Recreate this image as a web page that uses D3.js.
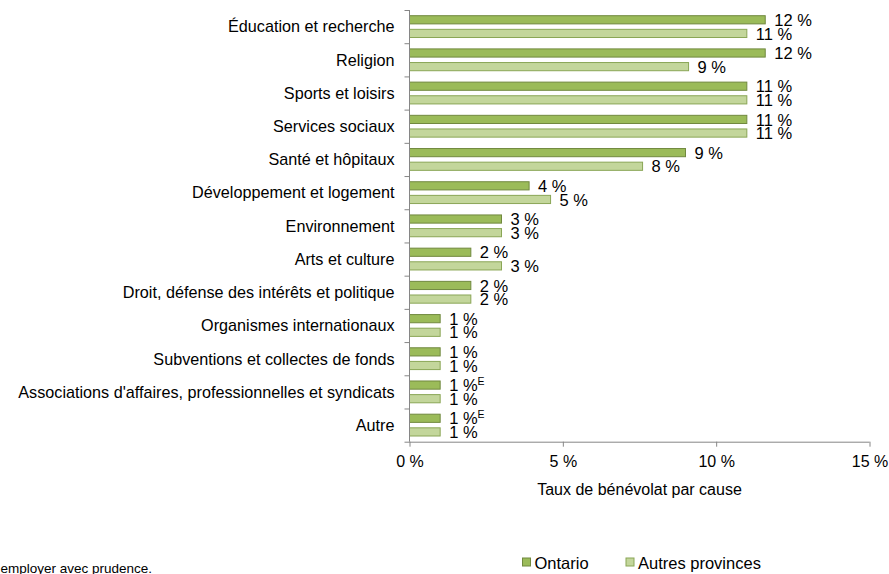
<!DOCTYPE html>
<html lang="fr">
<head>
<meta charset="utf-8">
<script src="https://cdn.jsdelivr.net/npm/d3@7"></script>
<style>
  html, body { margin: 0; padding: 0; background: #fff; }
  svg { display: block; font-family: "Liberation Sans", Arial, sans-serif; }
</style>
</head>
<body>
<svg id="chart" width="889" height="574"></svg>
<script>
// Causes, top to bottom
const categories = [
  "Éducation et recherche",
  "Religion",
  "Sports et loisirs",
  "Services sociaux",
  "Santé et hôpitaux",
  "Développement et logement",
  "Environnement",
  "Arts et culture",
  "Droit, défense des intérêts et politique",
  "Organismes internationaux",
  "Subventions et collectes de fonds",
  "Associations d'affaires, professionnelles et syndicats",
  "Autre"
];
const seriesNames = ["Ontario", "Autres provinces"];
// Volunteer rate by cause (%)
const ontario = [11.6, 11.6, 11.0, 11.0, 9.0, 3.9, 3.0, 2.0, 2.0, 1.0, 1.0, 1.0, 1.0];
const autres  = [11.0, 9.1, 11.0, 11.0, 7.6, 4.6, 3.0, 3.0, 2.0, 1.0, 1.0, 1.0, 1.0];
// Estimates flagged "E" (use with caution)
const ontarioFlag = ["", "", "", "", "", "", "", "", "", "", "", "E", "E"];
const autresFlag  = ["", "", "", "", "", "", "", "", "", "", "", "", ""];
const xTicks = [0, 5, 10, 15];
const axisTitle = "Taux de bénévolat par cause";
const footnote = "E à employer avec prudence.";

const fills = { "Ontario": "#9BBB59", "Autres provinces": "#C3D69B" };
const strokes = { "Ontario": "#71893F", "Autres provinces": "#8AA656" };
const axisColor = "#868686";

const svg = d3.select("#chart");
const x0 = 409.5, x1 = 869.5, yTop = 10, yBottom = 441.7;

const x = d3.scaleLinear().domain([0, 15]).range([x0, x1]);
const y = d3.scaleBand().domain(categories).range([yTop, yBottom]);
const ySub = d3.scaleBand().domain(seriesNames)
  .range([5.7, y.bandwidth() - 5.7]).paddingInner(0.4);

const rows = categories.map((c, i) => ({
  cat: c,
  bars: [
    { s: "Ontario", v: ontario[i], flag: ontarioFlag[i] },
    { s: "Autres provinces", v: autres[i], flag: autresFlag[i] }
  ]
}));

const fmt = v => d3.format(".0f")(v) + "\u00a0%";

// Bars
const g = svg.append("g");
const row = g.selectAll("g.row").data(rows).join("g")
  .attr("class", "row")
  .attr("transform", d => `translate(0,${y(d.cat)})`);

row.selectAll("rect").data(d => d.bars).join("rect")
  .attr("x", x(0))
  .attr("y", d => ySub(d.s))
  .attr("width", d => x(d.v) - x(0))
  .attr("height", ySub.bandwidth())
  .attr("fill", d => fills[d.s])
  .attr("stroke", d => strokes[d.s])
  .attr("stroke-width", 1);

// Value labels
const lab = row.selectAll("text.val").data(d => d.bars).join("text")
  .attr("class", "val")
  .attr("x", d => x(d.v) + 9)
  .attr("y", d => ySub(d.s) + ySub.bandwidth() / 2)
  .attr("dy", "0.37em")
  .attr("font-size", 16.5)
  .attr("fill", "#000");
lab.append("tspan").text(d => fmt(d.v));
lab.append("tspan")
  .attr("font-size", 10.5)
  .attr("dy", "-0.6em")
  .text(d => d.flag);

// Left axis: ticks at band boundaries
const yAxis = svg.append("g");
yAxis.append("line")
  .attr("x1", x0).attr("x2", x0).attr("y1", yTop).attr("y2", yBottom)
  .attr("stroke", axisColor);
yAxis.selectAll("line.tick").data(categories).join("line")
  .attr("class", "tick")
  .attr("x1", x0 - 5).attr("x2", x0)
  .attr("y1", d => y(d) + 0.5).attr("y2", d => y(d) + 0.5)
  .attr("stroke", axisColor);
yAxis.selectAll("text").data(categories).join("text")
  .attr("x", x0 - 15)
  .attr("y", d => y(d) + y.bandwidth() / 2)
  .attr("dy", "0.36em")
  .attr("text-anchor", "end")
  .attr("font-size", 16.2)
  .attr("fill", "#000")
  .text(d => d);

// Bottom axis
const xAxis = svg.append("g").attr("transform", `translate(0,${yBottom})`)
  .call(d3.axisBottom(x).tickValues(xTicks).tickSize(5).tickPadding(9)
    .tickFormat(d => d + "\u00a0%"));
xAxis.select(".domain").attr("stroke", axisColor).attr("d", `M${x0 - 5},0.5H${x1}`);
xAxis.selectAll(".tick line").attr("stroke", axisColor);
xAxis.selectAll(".tick text")
  .attr("font-size", 16)
  .attr("font-family", "Liberation Sans, Arial, sans-serif")
  .attr("fill", "#000");

// Axis title
svg.append("text")
  .attr("x", (x0 + x1) / 2).attr("y", 495)
  .attr("text-anchor", "middle")
  .attr("font-size", 16)
  .attr("fill", "#000")
  .text(axisTitle);

// Legend
const legendX = [522.5, 626];
const leg = svg.append("g").selectAll("g").data(seriesNames).join("g")
  .attr("transform", (d, i) => `translate(${legendX[i]},558)`);
leg.append("rect")
  .attr("width", 8).attr("height", 8)
  .attr("fill", d => fills[d]).attr("stroke", d => strokes[d]);
leg.append("text")
  .attr("x", 12).attr("y", 10.5)
  .attr("font-size", 16.5).attr("fill", "#000")
  .text(d => d);

// Footnote
svg.append("text")
  .attr("x", 152).attr("y", 572.5)
  .attr("text-anchor", "end")
  .attr("font-size", 13.5)
  .attr("fill", "#000")
  .text(footnote);
</script>
</body>
</html>
